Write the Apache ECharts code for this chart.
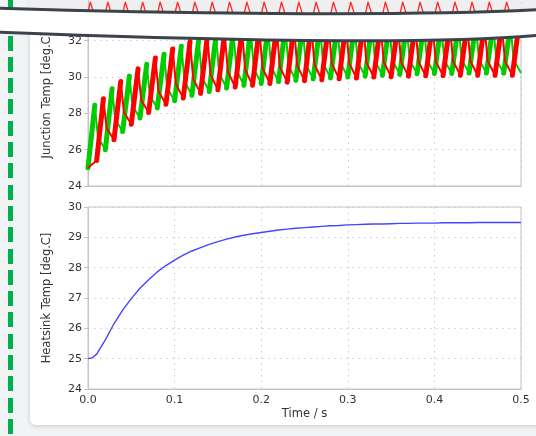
<!DOCTYPE html>
<html><head><meta charset="utf-8">
<script src="https://cdn.jsdelivr.net/npm/echarts@6/dist/echarts.min.js"></script>
<style>
html,body{margin:0;padding:0;background:#f2f3f5;width:536px;height:436px;overflow:hidden;position:relative}
#card{position:absolute;left:30px;top:-20px;width:540px;height:445px;background:#fff;border-radius:6px;box-shadow:0 1px 5px rgba(0,0,0,0.16)}
#dash{position:absolute;left:8px;top:-7.2px;width:5px;height:460px;background:repeating-linear-gradient(to bottom,#00b050 0,#00b050 15px,transparent 15px,transparent 21.3px)}
#chart{position:absolute;left:0;top:0;width:536px;height:436px}
</style></head><body>
<div id="dash"></div><div id="card"></div><div id="chart"></div>
<script>
// ---- data ----
const xTickLabels = ['0.0','0.1','0.2','0.3','0.4','0.5'];

// green device: cycle starts, trough (value at start of each cycle, last = end value), peak, knee after peak
const greenStart = [0.00,0.02,0.04,0.06,0.08,0.10,0.12,0.14,0.16,0.18,0.20,0.22,0.24,0.26,0.28,0.30,0.32,0.34,0.36,0.38,0.40,0.42,0.44,0.46,0.48];
const greenTrough = [25.0,26.0,27.0,27.75,28.3,28.7,29.0,29.2,29.4,29.55,29.65,29.75,29.82,29.9,29.95,30.0,30.05,30.1,30.15,30.18,30.2,30.2,30.22,30.22,30.22,30.22];
const greenPeak = [28.45,29.35,30.05,30.7,31.25,31.7,32.05,32.3,32.5,32.6,32.7,32.75,32.8,32.8,32.8,32.85,32.85,32.85,32.85,32.85,32.85,32.85,32.85,32.85,32.85];
const greenKnee = [26.69,27.66,28.39,28.97,29.41,29.76,30.0,30.21,30.38,30.48,30.58,30.64,30.71,30.75,30.78,30.83,30.87,30.91,30.93,30.94,30.94,30.96,30.96,30.96,30.96];

// red device
const redInit = [0.0, 25.0];
const redStart = [0.01,0.03,0.05,0.07,0.09,0.11,0.13,0.15,0.17,0.19,0.21,0.23,0.25,0.27,0.29,0.31,0.33,0.35,0.37,0.39,0.41,0.43,0.45,0.47,0.49];
const redTrough = [25.4,26.55,27.4,28.05,28.5,28.85,29.1,29.3,29.45,29.55,29.65,29.72,29.8,29.85,29.9,29.95,30.0,30.02,30.05,30.07,30.08,30.1,30.1,30.1,30.1];
const redPeak = [28.8,29.75,30.45,31.05,31.55,31.95,32.25,32.45,32.6,32.7,32.75,32.8,32.85,32.9,32.9,32.9,32.9,32.9,32.9,32.9,32.9,32.9,32.9,32.9,32.9];
const redKnee = [27.18,28.06,28.72,29.21,29.61,29.9,30.13,30.29,30.4,30.5,30.57,30.64,30.69,30.74,30.78,30.81,30.83,30.85,30.86,30.87,30.88,30.88,30.88,30.88];
const redEnd = [0.5, 32.5];

// heatsink
const heatTime = [0,0.005,0.01,0.02,0.03,0.04,0.05,0.06,0.07,0.08,0.09,0.10,0.11,0.12,0.13,0.14,0.15,0.16,0.17,0.18,0.19,0.20,0.21,0.22,0.23,0.24,0.25,0.26,0.27,0.28,0.29,0.30,0.31,0.32,0.33,0.34,0.35,0.36,0.37,0.38,0.39,0.40,0.41,0.42,0.43,0.44,0.45,0.46,0.47,0.48,0.49,0.50];
const heatTemp = [25.0,25.03,25.15,25.62,26.15,26.6,26.98,27.32,27.6,27.86,28.07,28.25,28.41,28.55,28.66,28.77,28.86,28.94,29.01,29.07,29.12,29.16,29.2,29.24,29.27,29.3,29.32,29.34,29.36,29.38,29.39,29.41,29.42,29.43,29.44,29.44,29.45,29.46,29.46,29.47,29.47,29.47,29.48,29.48,29.48,29.48,29.49,29.49,29.49,29.49,29.49,29.49];

// pulses seen in the strip of the panel above
const pulseTime = [0.0035,0.0237,0.0439,0.0639,0.0841,0.1042,0.1242,0.1442,0.1642,0.1842,0.2042,0.2242,0.2442,0.2642,0.2842,0.3042,0.3242,0.3442,0.3642,0.3842,0.4045,0.4245,0.4442,0.4642,0.4842];
const pulseLevel = [0, 1];

// ---- build series data ----
const PEAK_OFF = 0.0078, KNEE_OFF = 0.0115;
const greenLine = [], greenRise = [];
greenStart.forEach((s, k) => {
  greenLine.push([s, greenTrough[k]], [s + PEAK_OFF, greenPeak[k]], [s + KNEE_OFF, greenKnee[k]]);
  greenRise.push([s, greenTrough[k]], [s + PEAK_OFF, greenPeak[k]], [s + PEAK_OFF + 0.0001, '-']);
});
greenLine.push([0.5, greenTrough[greenTrough.length - 1]]);

const redLine = [redInit], redRise = [];
redStart.forEach((s, k) => {
  redLine.push([s, redTrough[k]], [s + PEAK_OFF, redPeak[k]]);
  if (k < redKnee.length) redLine.push([s + KNEE_OFF, redKnee[k]]);
  redRise.push([s, redTrough[k]], [s + PEAK_OFF, redPeak[k]], [s + PEAK_OFF + 0.0001, '-']);
});
redLine.push(redEnd);

const heatData = heatTime.map((t, i) => [t, heatTemp[i]]);
const pulseData = [];
pulseTime.forEach(t => {
  pulseData.push([t - 0.0055, pulseLevel[0]], [t - 0.0008, pulseLevel[1]], [t + 0.0008, pulseLevel[1]], [t + 0.0055, pulseLevel[0]]);
});

// ---- chart ----
const FONT = 'DejaVu Sans';
const AX = '#c4c4c4';
const TXT = '#333333';
const split = {show: true, lineStyle: {color: '#cbcbcb', type: [1.5, 4.5], width: 1}};
const xBase = {type: 'value', min: 0, max: 0.5, interval: 0.1, axisTick: {show: false},
  axisLine: {show: true, lineStyle: {color: AX}}, splitLine: split};
const yBase = {type: 'value', axisLine: {show: true, lineStyle: {color: AX}},
  axisTick: {show: true, inside: false, length: 4, lineStyle: {color: AX}},
  axisLabel: {margin: 6, fontSize: 11, color: TXT, fontFamily: FONT},
  splitLine: split, nameLocation: 'middle', nameGap: 35, nameMoveOverlap: false,
  nameTextStyle: {fontSize: 11.5, color: TXT, fontFamily: FONT}};

const chart = echarts.init(document.getElementById('chart'), null, {renderer: 'canvas'});

function bez(p0, p1, p2, p3, n) {
  const pts = [];
  for (let i = 0; i <= n; i++) {
    const s = i / n, a = (1 - s) * (1 - s) * (1 - s), b = 3 * s * (1 - s) * (1 - s), c = 3 * s * s * (1 - s), d = s * s * s;
    pts.push([a * p0[0] + b * p1[0] + c * p2[0] + d * p3[0], a * p0[1] + b * p1[1] + c * p2[1] + d * p3[1]]);
  }
  return pts;
}
const tearTop = [[-5, 8], [150, 13], [400, 17], [541, 9.5]];
const tearBot = [[-5, 32], [150, 38], [420, 46], [541, 35]];
const tearPoly = bez(...tearTop, 60).concat(bez(...tearBot, 60).reverse());

chart.setOption({
  animation: false,
  backgroundColor: 'transparent',
  textStyle: {fontFamily: FONT},
  grid: [
    {left: 88, right: 15, top: 4.4, bottom: 250, show: true, borderColor: AX, borderWidth: 1, containLabel: false, outerBoundsMode: 'none'},
    {left: 88, right: 15, top: 207, bottom: 47, show: true, borderColor: AX, borderWidth: 1, containLabel: false, outerBoundsMode: 'none'},
    {left: 88, right: 15, top: -10, height: 30, show: false, containLabel: false, outerBoundsMode: 'none', z: 60}
  ],
  xAxis: [
    Object.assign({}, xBase, {gridIndex: 0, axisLabel: {show: false}}),
    Object.assign({}, xBase, {gridIndex: 1,
      axisLabel: {show: true, margin: 6, fontSize: 11, color: TXT, fontFamily: FONT,
        formatter: v => xTickLabels[Math.round(v * 10)]},
      name: 'Time / s', nameLocation: 'middle', nameGap: 19, nameMoveOverlap: false,
      nameTextStyle: {fontSize: 11.5, color: TXT, fontFamily: FONT}}),
    Object.assign({}, xBase, {gridIndex: 2, axisLine: {show: false}, axisLabel: {show: false}, z: 60})
  ],
  yAxis: [
    Object.assign({}, yBase, {gridIndex: 0, min: 24, max: 34, interval: 2, name: 'Junction Temp [deg.C]'}),
    Object.assign({}, yBase, {gridIndex: 1, min: 24, max: 30, interval: 1, name: 'Heatsink Temp [deg.C]'}),
    {type: 'value', gridIndex: 2, min: 0, max: 1.6667, position: 'right', axisLabel: {show: false},
      axisTick: {show: false}, splitLine: {show: false}, axisLine: {show: true, lineStyle: {color: AX}}, z: 60}
  ],
  series: [
    {type: 'line', xAxisIndex: 0, yAxisIndex: 0, data: greenLine, showSymbol: false, symbol: 'none',
      lineStyle: {color: '#00cc00', width: 2}, z: 3, silent: true},
    {type: 'line', xAxisIndex: 0, yAxisIndex: 0, data: greenRise, showSymbol: false, symbol: 'none',
      connectNulls: false, lineStyle: {color: '#00cc00', width: 5, cap: 'round'}, z: 3, silent: true},
    {type: 'line', xAxisIndex: 0, yAxisIndex: 0, data: redLine, showSymbol: false, symbol: 'none',
      lineStyle: {color: '#ff0000', width: 2}, z: 4, silent: true},
    {type: 'line', xAxisIndex: 0, yAxisIndex: 0, data: redRise, showSymbol: false, symbol: 'none',
      connectNulls: false, lineStyle: {color: '#ff0000', width: 5, cap: 'round'}, z: 4, silent: true},
    {type: 'line', xAxisIndex: 1, yAxisIndex: 1, data: heatData, showSymbol: false, symbol: 'none',
      lineStyle: {color: '#4545ff', width: 1.4}, z: 3, silent: true},
    {type: 'line', xAxisIndex: 2, yAxisIndex: 2, data: pulseData, showSymbol: false, symbol: 'none',
      lineStyle: {color: '#ff2a2a', width: 1.3}, z: 60, silent: true}
  ],
  graphic: [
    {type: 'rect', shape: {x: 28, y: -5, width: 520, height: 28}, style: {fill: '#efefef'}, z: 50, silent: true},
    {type: 'polygon', shape: {points: tearPoly}, style: {fill: '#ffffff'}, z: 100, silent: true},
    {type: 'bezierCurve', shape: {x1: tearTop[0][0], y1: tearTop[0][1], cpx1: tearTop[1][0], cpy1: tearTop[1][1], cpx2: tearTop[2][0], cpy2: tearTop[2][1], x2: tearTop[3][0], y2: tearTop[3][1]},
      style: {stroke: '#3c434a', lineWidth: 3, fill: null}, z: 101, silent: true},
    {type: 'bezierCurve', shape: {x1: tearBot[0][0], y1: tearBot[0][1], cpx1: tearBot[1][0], cpy1: tearBot[1][1], cpx2: tearBot[2][0], cpy2: tearBot[2][1], x2: tearBot[3][0], y2: tearBot[3][1]},
      style: {stroke: '#3c434a', lineWidth: 3, fill: null}, z: 101, silent: true}
  ]
});
</script>
</body></html>
